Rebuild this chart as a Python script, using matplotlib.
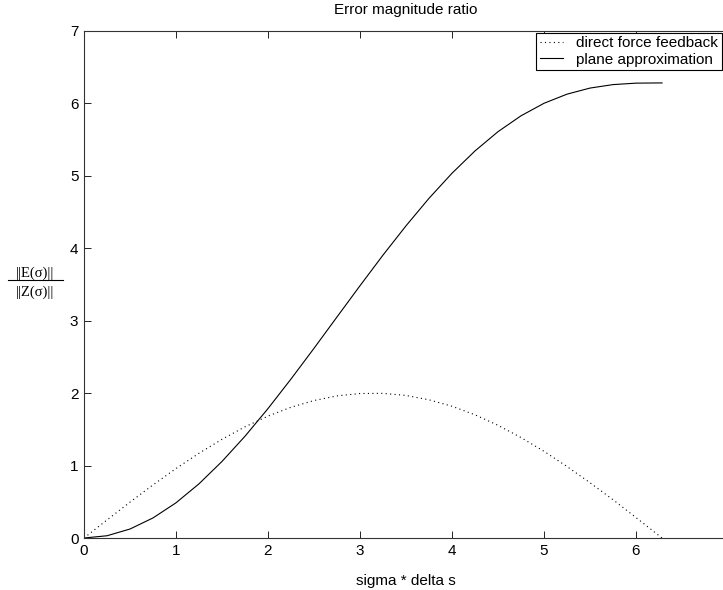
import numpy as np
import matplotlib
matplotlib.use("Agg")
import matplotlib.pyplot as plt
from matplotlib.lines import Line2D

plt.rcParams['font.family'] = ['Liberation Sans', 'DejaVu Sans']

# sigma * delta s
x = [0, 0.25, 0.5, 0.75, 1.0, 1.25, 1.5, 1.75, 2.0, 2.25, 2.5, 2.75, 3.0,
     3.25, 3.5, 3.75, 4.0, 4.25, 4.5, 4.75, 5.0, 5.25, 5.5, 5.75, 6.0,
     6.25, 6.2832]

# direct force feedback (dotted)
direct_ff = [0, 0.249, 0.495, 0.733, 0.959, 1.170, 1.363, 1.535, 1.683,
             1.805, 1.898, 1.962, 1.995, 1.997, 1.968, 1.908, 1.819, 1.701,
             1.556, 1.387, 1.197, 0.987, 0.763, 0.529, 0.282, 0.033, 0]

# plane approximation (solid)
plane_approx = [0, 0.031, 0.124, 0.277, 0.486, 0.748, 1.057, 1.405, 1.787,
                2.195, 2.619, 3.052, 3.483, 3.906, 4.310, 4.690, 5.036,
                5.344, 5.610, 5.829, 6.002, 6.128, 6.212, 6.260, 6.280,
                6.283, 6.283]

W, H = 723, 590
fig = plt.figure(figsize=(W / 100, H / 100), dpi=100)
# axes extends a little past the right edge, like the cropped original
ax = fig.add_axes([84 / W, 52 / H, (728 - 84) / W, (538 - 31) / H])

ax.plot(x, direct_ff, color='black', linewidth=0.8, linestyle=(0, (1, 3)),
        label='direct force feedback')
ax.plot(x, plane_approx, color='black', linewidth=0.8,
        label='plane approximation')

ax.set_xlim(0, 7)
ax.set_ylim(0, 7)
ax.set_xticks(range(0, 7))
ax.set_yticks(range(0, 8))
ax.tick_params(direction='in', top=True, right=False, labelsize=11,
               length=5, width=0.6, pad=4)
for s in ax.spines.values():
    s.set_linewidth(0.8)
    s.set_color('#333333')

ax.set_title('Error magnitude ratio', fontsize=11, pad=12)
ax.set_xlabel('sigma * delta s', fontsize=11, labelpad=12)

leg = ax.legend(loc='upper right', bbox_to_anchor=(0.99, 0.997),
                borderaxespad=0, fancybox=False, edgecolor='black',
                framealpha=1, fontsize=11, handlelength=1.5,
                borderpad=0.25, labelspacing=0.15, handletextpad=0.85)
leg.get_frame().set_linewidth(0.8)

# fraction style y label
fig.text(35 / W, 1 - 273 / H, '||E(σ)||', ha='center', va='center',
         fontsize=10.5, family=['Liberation Serif', 'DejaVu Serif'])
fig.text(35 / W, 1 - 292 / H, '||Z(σ)||', ha='center', va='center',
         fontsize=10.5, family=['Liberation Serif', 'DejaVu Serif'])
fig.add_artist(Line2D([8 / W, 63 / W], [1 - 280 / H, 1 - 280 / H],
                      color='black', linewidth=0.8))

fig.savefig('out.png', dpi=100)
